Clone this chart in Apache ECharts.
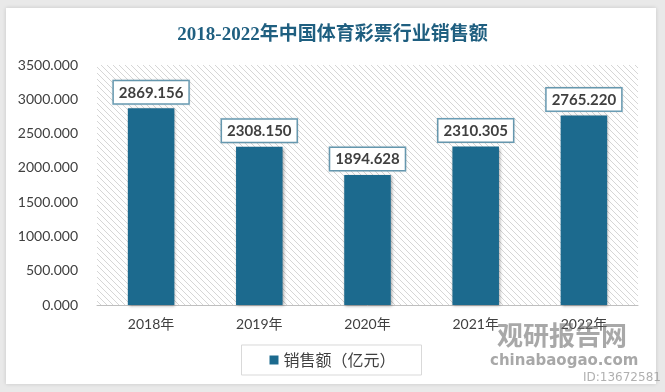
<!DOCTYPE html>
<html><head><meta charset="utf-8">
<style>html,body{margin:0;padding:0;background:#e9e9e9;}#c{width:665px;height:392px;}</style>
<script src="https://cdn.jsdelivr.net/npm/echarts@6/dist/echarts.min.js"></script>
</head><body><div id="c"></div>
<script>
const categories = ['2018年','2019年','2020年','2021年','2022年'];
const sales = [2869.156, 2308.150, 1894.628, 2310.305, 2765.220];
const seriesName = '销售额（亿元）';
const titleText = '2018-2022年中国体育彩票行业销售额';

// hatch pattern
const pc = document.createElement('canvas');
pc.width = 6; pc.height = 6;
const g = pc.getContext('2d');
g.fillStyle = '#ffffff'; g.fillRect(0,0,6,6);
g.strokeStyle = '#d6d6d6'; g.lineWidth = 1;
g.beginPath();
g.moveTo(-1,-1); g.lineTo(7,7);
g.moveTo(-4,2); g.lineTo(4,10);
g.moveTo(2,-4); g.lineTo(10,4);
g.stroke();

const chart = echarts.init(document.getElementById('c'));
chart.setOption({
  backgroundColor: '#e9e9e9',
  animation: false,
  graphic: [
    {type:'rect', z:-10, shape:{x:6,y:8,width:650,height:376},
     style:{fill:'#ffffff', shadowBlur:4, shadowColor:'rgba(0,0,0,0.15)'}},
    {type:'text', z:10, left:497, top:322, style:{text:'观研报告网', fill:'rgba(110,110,110,0.6)', font:'bold 26px "Noto Sans CJK SC"'}},
    {type:'text', z:10, left:490, top:354, style:{text:'chinabaogao.com', fill:'rgba(110,110,110,0.6)', font:'bold 15px "DejaVu Sans"'}},
    {type:'text', z:10, left:583, top:372, style:{text:'ID:13672581', fill:'rgba(150,150,150,0.75)', font:'12px "DejaVu Sans"'}}
  ],
  title: {
    text: titleText, left: 'center', top: 21,
    textStyle: {color:'#1f5f80', fontSize:19, fontWeight:'bold', fontFamily:'"Liberation Serif","Noto Sans CJK SC"'}
  },
  grid: {left:97, right:27, top:65, bottom:87, show:true, borderWidth:0,
    backgroundColor: {image: pc, repeat:'repeat'}},
  legend: {
    bottom: 17, left: 'center', icon:'rect', itemWidth:9, itemHeight:9, itemGap:6,
    borderColor:'#d9d9d9', borderWidth:1, padding:[7,26,7,28],
    textStyle:{color:'#404040', fontSize:16, fontFamily:'"Noto Sans CJK SC"'}
  },
  xAxis: {
    type:'category', data: categories,
    axisLine:{lineStyle:{color:'#bfbfbf'}}, axisTick:{show:false},
    axisLabel:{color:'#404040', fontSize:14, margin:12, fontFamily:'"Lato","Noto Sans CJK SC"'}
  },
  yAxis: {
    type:'value', min:0, max:3500, interval:500,
    splitLine:{show:false}, axisLine:{show:false}, axisTick:{show:false},
    axisLabel:{color:'#404040', fontSize:14, margin:19, fontFamily:'Lato', formatter: v => v.toFixed(3)}
  },
  series: [{
    name: seriesName, type:'bar', data: sales, barWidth:'43%',
    itemStyle:{color:'#1c6a8e', shadowBlur:3, shadowColor:'rgba(0,0,0,0.35)', shadowOffsetX:1, shadowOffsetY:1},
    label:{show:true, position:'top', distance:5, formatter: p => p.value.toFixed(3),
      color:'#404040', fontSize:15, fontWeight:'bold', fontFamily:'Lato',
      backgroundColor:'#ffffff', borderColor:'#6b9fb7', borderWidth:1.5, padding:[4,5,3,5],
      shadowBlur:2, shadowColor:'rgba(0,0,0,0.15)'}
  }]
});
</script></body></html>
